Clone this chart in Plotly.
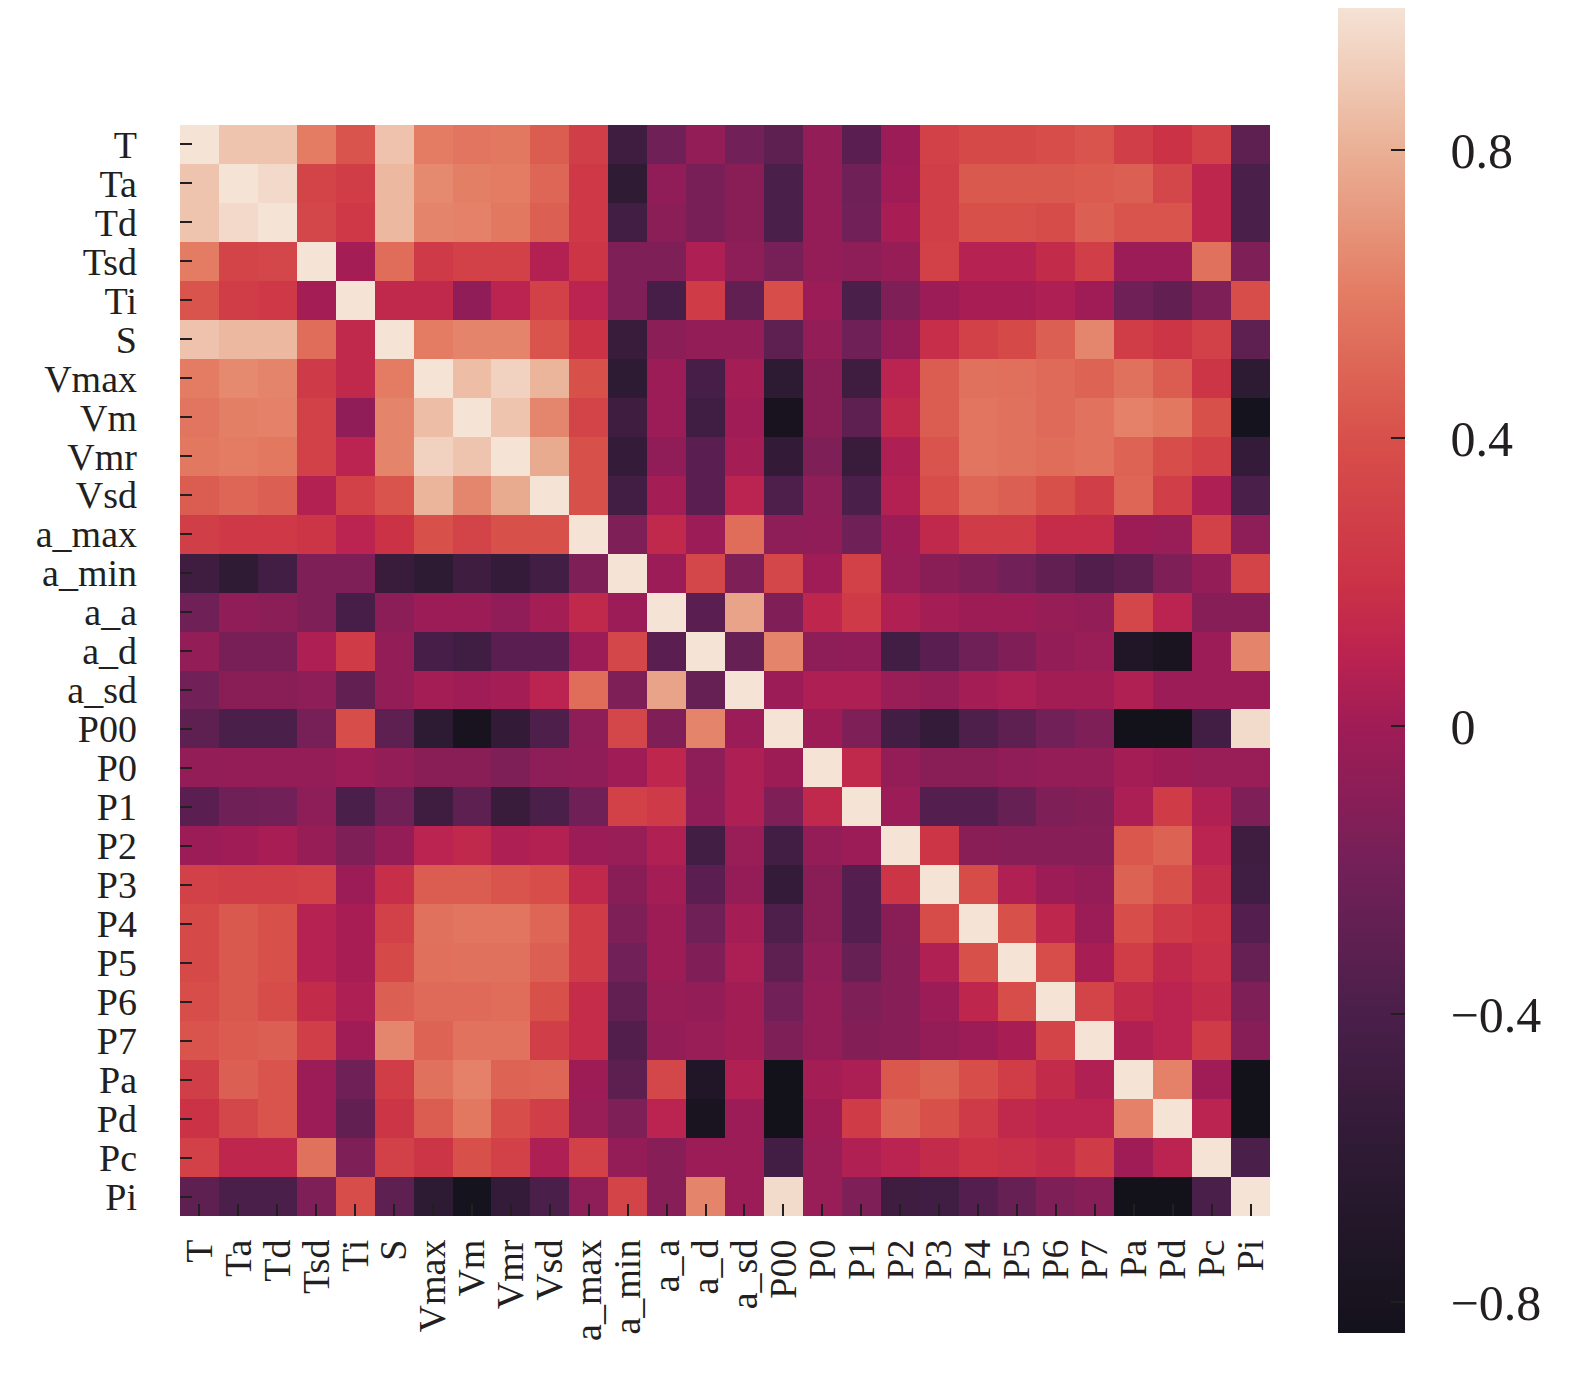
import numpy as np
import plotly.graph_objects as go

labels = ["T", "Ta", "Td", "Tsd", "Ti", "S", "Vmax", "Vm", "Vmr", "Vsd",
          "a_max", "a_min", "a_a", "a_d", "a_sd", "P00", "P0", "P1", "P2",
          "P3", "P4", "P5", "P6", "P7", "Pa", "Pd", "Pc", "Pi"]

# upper-triangle correlation values (columns to the right of the diagonal)
up_T = [0.88, 0.88, 0.6, 0.42, 0.87, 0.6, 0.57, 0.58, 0.46, 0.28, -0.48, -0.22, -0.06, -0.2, -0.3, -0.06, -0.32, -0.02, 0.3, 0.35, 0.35, 0.38, 0.42, 0.28, 0.2, 0.3, -0.3]
up_Ta = [0.96, 0.32, 0.27, 0.83, 0.65, 0.61, 0.6, 0.5, 0.24, -0.58, -0.07, -0.17, -0.1, -0.4, -0.05, -0.22, 0.0, 0.28, 0.44, 0.44, 0.44, 0.45, 0.47, 0.33, 0.12, -0.4]
up_Td = [0.33, 0.24, 0.83, 0.63, 0.62, 0.58, 0.47, 0.24, -0.45, -0.09, -0.17, -0.1, -0.4, -0.05, -0.2, 0.03, 0.28, 0.4, 0.4, 0.37, 0.47, 0.42, 0.42, 0.12, -0.4]
up_Tsd = [0.02, 0.53, 0.25, 0.3, 0.3, 0.07, 0.22, -0.15, -0.15, 0.05, -0.08, -0.18, -0.05, -0.08, -0.04, 0.3, 0.08, 0.08, 0.15, 0.28, -0.02, -0.02, 0.55, -0.15]
up_Ti = [0.14, 0.14, -0.07, 0.1, 0.3, 0.1, -0.15, -0.43, 0.26, -0.28, 0.38, -0.02, -0.4, -0.15, -0.02, 0.03, 0.03, 0.05, 0.0, -0.22, -0.28, -0.15, 0.38]
up_S = [0.6, 0.63, 0.63, 0.42, 0.2, -0.52, -0.09, -0.06, -0.06, -0.3, -0.06, -0.22, -0.05, 0.17, 0.3, 0.36, 0.47, 0.64, 0.27, 0.22, 0.3, -0.3]
up_Vmax = [0.85, 0.93, 0.82, 0.4, -0.6, -0.02, -0.43, 0.02, -0.6, -0.1, -0.48, 0.1, 0.46, 0.55, 0.54, 0.52, 0.49, 0.55, 0.46, 0.22, -0.6]
up_Vm = [0.88, 0.64, 0.32, -0.48, -0.02, -0.47, 0.0, -0.8, -0.1, -0.3, 0.14, 0.46, 0.57, 0.55, 0.52, 0.56, 0.62, 0.58, 0.4, -0.82]
up_Vmr = [0.78, 0.4, -0.55, -0.07, -0.32, 0.02, -0.56, -0.15, -0.52, 0.05, 0.42, 0.57, 0.55, 0.53, 0.56, 0.49, 0.38, 0.3, -0.55]
up_Vsd = [0.4, -0.45, 0.02, -0.32, 0.1, -0.38, -0.08, -0.4, 0.07, 0.38, 0.5, 0.47, 0.4, 0.28, 0.5, 0.28, 0.05, -0.4]
up_a_max = [-0.15, 0.14, -0.02, 0.53, -0.08, -0.07, -0.22, -0.02, 0.14, 0.26, 0.26, 0.16, 0.16, -0.01, -0.03, 0.3, -0.08]
up_a_min = [-0.02, 0.33, -0.15, 0.33, 0.0, 0.3, -0.03, -0.1, -0.15, -0.2, -0.28, -0.36, -0.31, -0.15, -0.05, 0.32]
up_a_a = [-0.32, 0.75, -0.14, 0.12, 0.25, 0.06, 0.02, -0.01, -0.01, -0.04, -0.06, 0.33, 0.1, -0.11, -0.11]
up_a_d = [-0.26, 0.63, -0.08, -0.07, -0.45, -0.32, -0.22, -0.14, -0.06, -0.03, -0.72, -0.78, -0.02, 0.63]
up_a_sd = [-0.02, 0.05, 0.05, -0.03, -0.05, 0.02, 0.04, 0.01, 0.01, 0.06, -0.02, -0.02, -0.02]
up_P00 = [-0.01, -0.15, -0.45, -0.55, -0.38, -0.3, -0.2, -0.15, -0.84, -0.84, -0.45, 0.97]
up_P0 = [0.14, -0.05, -0.1, -0.1, -0.07, -0.05, -0.05, 0.02, -0.01, -0.03, -0.03]
up_P1 = [-0.02, -0.35, -0.35, -0.26, -0.15, -0.12, 0.04, 0.26, 0.06, -0.15]
up_P2 = [0.22, -0.1, -0.11, -0.11, -0.11, 0.43, 0.48, 0.1, -0.48]
up_P3 = [0.37, 0.06, -0.02, -0.05, 0.48, 0.4, 0.15, -0.47]
up_P4 = [0.4, 0.12, -0.02, 0.38, 0.25, 0.2, -0.35]
up_P5 = [0.38, 0.03, 0.27, 0.14, 0.18, -0.26]
up_P6 = [0.32, 0.15, 0.1, 0.15, -0.15]
up_P7 = [0.06, 0.1, 0.26, -0.11]
up_Pa = [0.62, 0.0, -0.84]
up_Pd = [0.1, -0.84]
up_Pc = [-0.4]

upper_rows = [up_T, up_Ta, up_Td, up_Tsd, up_Ti, up_S, up_Vmax, up_Vm, up_Vmr,
              up_Vsd, up_a_max, up_a_min, up_a_a, up_a_d, up_a_sd, up_P00, up_P0,
              up_P1, up_P2, up_P3, up_P4, up_P5, up_P6, up_P7, up_Pa, up_Pd, up_Pc]

n = len(labels)
corr = np.eye(n)
for i, row in enumerate(upper_rows):
    for k, v in enumerate(row):
        j = i + 1 + k
        corr[i, j] = v
        corr[j, i] = v

zmin, zmax = -0.843, 1.0

# colour stops sampled from the reference colour bar (value -> colour)
stop_values = [-0.843, -0.6, -0.4, -0.2, 0.0, 0.1, 0.2, 0.4, 0.6, 0.8, 1.0]
stop_colors = ["#13121b", "#2d1a33", "#4a1f4a", "#722058", "#a01c56", "#bb2350",
               "#cb3246", "#d8504a", "#e37c63", "#eab095", "#f5e3d6"]
colorscale = [[(v - zmin) / (zmax - zmin), c] for v, c in zip(stop_values, stop_colors)]

FONT = "Liberation Serif, Times New Roman, serif"
INK = "#231f20"

# the page body adds an 8px margin on every side, so the figure is 16px smaller
W, H = 1559, 1360
PL, PT, PW, PH = 172, 117, 1090, 1091

fig = go.Figure(go.Heatmap(
    z=corr, x=labels, y=labels,
    zmin=zmin, zmax=zmax, colorscale=colorscale,
    xgap=0, ygap=0,
    colorbar=dict(
        x=(1330 - PL) / PW, xanchor="left", xpad=0,
        y=(PT + PH - 661.5) / PH, yanchor="middle", ypad=0,
        thickness=67, thicknessmode="pixels",
        len=1327, lenmode="pixels",
        outlinewidth=0,
        tick0=0, dtick=0.4, tickmode="linear",
        ticks="inside", ticklen=14, tickwidth=2, tickcolor=INK,
        tickprefix="\u2002\u2009",
        tickfont=dict(family=FONT, size=50, color=INK),
    ),
))

fig.update_layout(
    width=W, height=H,
    margin=dict(l=PL, r=W - PL - PW, t=PT, b=H - PT - PH, autoexpand=False),
    paper_bgcolor="white", plot_bgcolor="white",
    font=dict(family=FONT, color=INK),
)
fig.update_xaxes(
    showgrid=False, zeroline=False, showline=False, automargin=False,
    tickmode="array", tickvals=labels, ticktext=labels,
    ticks="inside", ticklen=12, tickwidth=2, tickcolor=INK,
    tickangle=-90, tickfont=dict(family=FONT, size=38, color=INK),
    ticklabelstandoff=15,
)
fig.update_yaxes(
    autorange="reversed", automargin=False,
    tickmode="array", tickvals=labels, ticktext=labels,
    showgrid=False, zeroline=False, showline=False,
    ticks="inside", ticklen=12, tickwidth=2, tickcolor=INK,
    tickfont=dict(family=FONT, size=38, color=INK),
    ticklabelstandoff=42,
)

fig.write_html("out.html")
